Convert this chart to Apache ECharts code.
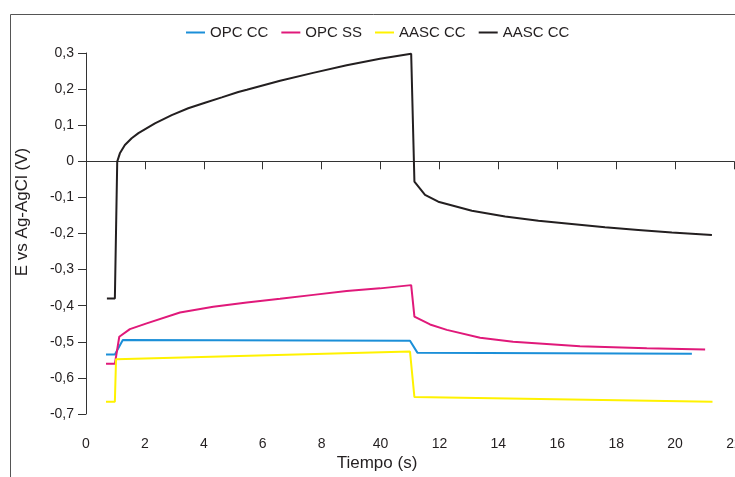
<!DOCTYPE html>
<html>
<head>
<meta charset="utf-8">
<script src="https://cdn.jsdelivr.net/npm/echarts@6/dist/echarts.min.js"></script>
<style>
  html, body { margin: 0; padding: 0; background: #fff; }
  #chart { width: 735px; height: 477px; }
</style>
</head>
<body>
<div id="chart"></div>
<script>
// tick labels as printed on the original (the "10" position reads "40")
var xTickLabels = ['0', '2', '4', '6', '8', '40', '12', '14', '16', '18', '20', '22'];

// [tiempo (s), E (V)]
var opcCC = [[0.68, -0.535], [0.98, -0.535], [1.25, -0.495], [11.0, -0.497], [11.25, -0.53], [20.57, -0.533]];
var opcSS = [[0.68, -0.561], [0.98, -0.561], [1.13, -0.486], [1.49, -0.465], [2.06, -0.449], [3.19, -0.419],
  [4.32, -0.403], [5.46, -0.391], [6.59, -0.381], [7.72, -0.37], [8.85, -0.359], [9.98, -0.352], [11.04, -0.343],
  [11.15, -0.43], [11.68, -0.452], [12.25, -0.467], [13.38, -0.489], [14.5, -0.5], [15.64, -0.506], [16.77, -0.512],
  [17.9, -0.515], [19.04, -0.518], [21.02, -0.521]];
var aascCC = [[0.68, -0.666], [0.98, -0.666], [1.02, -0.548], [11.0, -0.527], [11.15, -0.653], [21.27, -0.666]];
var aascCC2 = [[0.71, -0.38], [0.98, -0.38], [1.06, -0.001], [1.15, 0.022], [1.32, 0.045], [1.55, 0.064],
  [1.78, 0.078], [2.34, 0.105], [2.91, 0.128], [3.47, 0.147], [4.04, 0.162], [4.61, 0.177], [5.17, 0.192],
  [5.46, 0.198], [6.59, 0.223], [7.71, 0.245], [8.85, 0.266], [9.98, 0.284], [11.04, 0.298],
  [11.15, -0.056], [11.51, -0.093], [11.96, -0.112], [13.1, -0.137], [14.23, -0.153], [15.36, -0.165],
  [16.49, -0.174], [17.62, -0.183], [18.75, -0.19], [19.89, -0.197], [21.25, -0.204]];

var chart = echarts.init(document.getElementById('chart'));

function line(name, data, color) {
  return {
    name: name,
    type: 'line',
    data: data,
    showSymbol: false,
    symbol: 'none',
    lineStyle: { width: 2, color: color },
    itemStyle: { color: color }
  };
}

var font = 'Liberation Sans, Arial, sans-serif';

var option = {
  animation: false,
  backgroundColor: '#fff',
  textStyle: { fontFamily: font },
  grid: { left: 86, right: 1, top: 53, bottom: 63, outerBoundsMode: 'none', containLabel: false },
  legend: {
    left: 181,
    top: 20,
    icon: 'rect',
    itemWidth: 19,
    itemHeight: 2,
    itemGap: 13,
    textStyle: { fontSize: 15, color: '#231f20', fontFamily: font },
    data: ['OPC CC', 'OPC SS', 'AASC CC', 'AASC CC ']
  },
  xAxis: {
    type: 'value',
    min: 0,
    max: 22,
    interval: 2,
    axisLine: { lineStyle: { color: '#333', width: 1 } },
    axisTick: { show: true, inside: false, length: 8, lineStyle: { color: '#333' } },
    axisLabel: {
      margin: 23,
      fontSize: 14,
      color: '#231f20',
      showMaxLabel: true,
      formatter: function (v) { return xTickLabels[Math.round(v / 2)]; }
    },
    splitLine: { show: false }
  },
  yAxis: {
    type: 'value',
    min: -0.7,
    max: 0.3,
    interval: 0.1,
    axisLine: { show: true, lineStyle: { color: '#333', width: 1 } },
    axisTick: { show: true, inside: false, length: 8, lineStyle: { color: '#333' } },
    axisLabel: {
      margin: 12,
      fontSize: 14,
      color: '#231f20',
      formatter: function (v) {
        var r = Math.round(v * 10) / 10;
        return String(r === 0 ? 0 : r).replace('.', ',');
      }
    },
    splitLine: { show: false }
  },
  graphic: [
    {
      type: 'rect',
      left: 8, top: 12,
      shape: { width: 800, height: 500 },
      style: { fill: 'none', stroke: '#555', lineWidth: 1 },
      silent: true
    },
    {
      type: 'text',
      x: 22, y: 212,
      rotation: Math.PI / 2,
      style: { text: 'E vs Ag-AgCl (V)', fontSize: 17, fontFamily: font, fill: '#231f20', align: 'center', verticalAlign: 'middle' }
    },
    {
      type: 'text',
      x: 377, y: 463,
      style: { text: 'Tiempo (s)', fontSize: 17, fontFamily: font, fill: '#231f20', align: 'center', verticalAlign: 'middle' }
    }
  ],
  series: [
    line('OPC CC', opcCC, '#1b8fd8'),
    line('OPC SS', opcSS, '#e0197a'),
    line('AASC CC', aascCC, '#fff200'),
    line('AASC CC ', aascCC2, '#231f20')
  ]
};

chart.setOption(option);
</script>
</body>
</html>
